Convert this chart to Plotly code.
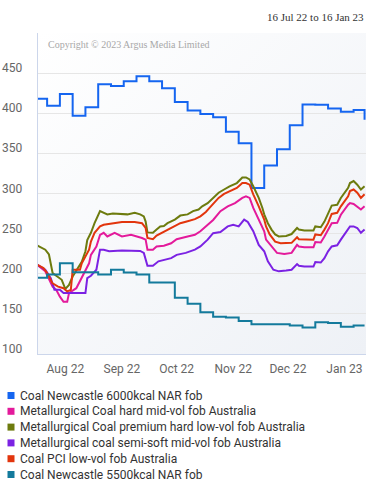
import base64
import plotly.graph_objects as go

# ---------------- data ----------------
series_names = [
    "Coal Newcastle 6000kcal NAR fob",
    "Metallurgical Coal hard mid-vol fob Australia",
    "Metallurgical Coal premium hard low-vol fob Australia",
    "Metallurgical coal semi-soft mid-vol fob Australia",
    "Coal PCI low-vol fob Australia",
    "Coal Newcastle 5500kcal NAR fob",
]
series_colors = ["#1565F0", "#E31A9B", "#6D7B0E", "#7B22E3", "#E2350D", "#137A9C"]

# weekly assessments (Fridays)
weekly_dates = ["2022-07-16", "2022-07-22", "2022-07-29", "2022-08-05", "2022-08-12", "2022-08-19",
                "2022-08-26", "2022-09-02", "2022-09-09", "2022-09-16", "2022-09-23", "2022-09-30",
                "2022-10-07", "2022-10-14", "2022-10-21", "2022-10-28", "2022-11-04", "2022-11-11",
                "2022-11-18", "2022-11-25", "2022-12-02", "2022-12-09", "2022-12-16", "2022-12-23",
                "2022-12-30", "2023-01-06", "2023-01-12"]
nc6000_vals = [418, 409.5, 424, 397, 407.5, 436, 434, 440, 446, 440, 431, 414,
               403.5, 399, 395, 377, 362.5, 307, 335, 355, 385, 411, 410.5, 406,
               402, 404, 392]
nc5500_vals = [195, 199, 213, 202, 202, 199, 205, 201.5, 199, 189, 189, 170,
               162.5, 152, 146.5, 145.5, 141, 137, 137, 137, 135.5, 133, 139.5, 138.5,
               134, 135.5, 135.5]

hard_dates = ["2022-07-16", "2022-07-21", "2022-07-25", "2022-07-27", "2022-07-29", "2022-07-31",
              "2022-08-02", "2022-08-03", "2022-08-07", "2022-08-10", "2022-08-12", "2022-08-14",
              "2022-08-15", "2022-08-18", "2022-08-20", "2022-08-22", "2022-08-24", "2022-08-28",
              "2022-09-01", "2022-09-06", "2022-09-12", "2022-09-14", "2022-09-15", "2022-09-18",
              "2022-09-20", "2022-09-24", "2022-09-28", "2022-10-01", "2022-10-07", "2022-10-11",
              "2022-10-14", "2022-10-18", "2022-10-21", "2022-10-25", "2022-10-29", "2022-11-02",
              "2022-11-06", "2022-11-08", "2022-11-10", "2022-11-12", "2022-11-15", "2022-11-18",
              "2022-11-19", "2022-11-22", "2022-11-25", "2022-11-29", "2022-12-03", "2022-12-06",
              "2022-12-07", "2022-12-10", "2022-12-15", "2022-12-16", "2022-12-19", "2022-12-21",
              "2022-12-23", "2022-12-25", "2022-12-28", "2022-12-30", "2023-01-03", "2023-01-04",
              "2023-01-06", "2023-01-08", "2023-01-10", "2023-01-12"]
hard_vals = [212, 203, 184, 180, 171.5, 165,
             165, 176, 182, 194.5, 203, 213,
             223.5, 234, 248.5, 251, 246.5, 251,
             246.5, 248.5, 244.5, 242.5, 230, 230,
             234, 235, 238, 243, 246.5, 248.5,
             253, 261, 267, 278, 284, 288,
             294.5, 296.5, 294.5, 282, 267.5, 253,
             242.5, 234, 226, 224.5, 226, 236,
             234, 233, 233, 239.5, 239, 246.5,
             255, 263, 263.5, 273.5, 286, 288,
             287, 284, 280, 284]

premium_dates = ["2022-07-16", "2022-07-21", "2022-07-23", "2022-07-25", "2022-07-27", "2022-07-30",
                 "2022-08-01", "2022-08-03", "2022-08-05", "2022-08-08", "2022-08-10", "2022-08-12",
                 "2022-08-13", "2022-08-15", "2022-08-17", "2022-08-20", "2022-08-22", "2022-08-24",
                 "2022-08-27", "2022-09-04", "2022-09-08", "2022-09-11", "2022-09-13", "2022-09-14",
                 "2022-09-15", "2022-09-18", "2022-09-20", "2022-09-22", "2022-09-24", "2022-09-26",
                 "2022-09-30", "2022-10-03", "2022-10-07", "2022-10-10", "2022-10-13", "2022-10-15",
                 "2022-10-18", "2022-10-21", "2022-10-24", "2022-10-27", "2022-10-30", "2022-11-03",
                 "2022-11-06", "2022-11-08", "2022-11-10", "2022-11-12", "2022-11-15", "2022-11-17",
                 "2022-11-18", "2022-11-20", "2022-11-22", "2022-11-24", "2022-11-26", "2022-11-30",
                 "2022-12-03", "2022-12-06", "2022-12-07", "2022-12-10", "2022-12-15", "2022-12-16",
                 "2022-12-19", "2022-12-21", "2022-12-23", "2022-12-25", "2022-12-28", "2022-12-30",
                 "2023-01-03", "2023-01-04", "2023-01-06", "2023-01-08", "2023-01-10", "2023-01-12"]
premium_vals = [236, 230, 224, 201, 197.5, 192.5,
                181, 186, 196.5, 207, 215, 228,
                242, 251, 263, 278, 276, 274,
                275, 274, 276, 274, 271.5, 265,
                251.5, 251, 255, 259, 259.5, 263,
                267.5, 272.5, 274, 278, 280, 284,
                288, 295, 301, 305, 309, 313,
                320, 320, 317.5, 309, 294.5, 282,
                274, 263, 255, 249, 246.5, 247,
                249.5, 257, 255, 254, 254, 259,
                258, 265, 274, 285, 286, 294.5,
                307, 313, 315.5, 311, 305, 309]

semisoft_dates = ["2022-07-16", "2022-07-21", "2022-07-24", "2022-07-26", "2022-07-29", "2022-07-31",
                  "2022-08-12", "2022-08-13", "2022-08-15", "2022-08-18", "2022-08-20", "2022-08-22",
                  "2022-08-25", "2022-09-01", "2022-09-11", "2022-09-13", "2022-09-15", "2022-09-18",
                  "2022-09-21", "2022-09-24", "2022-09-28", "2022-10-01", "2022-10-06", "2022-10-11",
                  "2022-10-14", "2022-10-18", "2022-10-21", "2022-10-25", "2022-10-29", "2022-11-01",
                  "2022-11-04", "2022-11-07", "2022-11-09", "2022-11-12", "2022-11-15", "2022-11-18",
                  "2022-11-20", "2022-11-23", "2022-11-26", "2022-11-30", "2022-12-03", "2022-12-06",
                  "2022-12-07", "2022-12-10", "2022-12-15", "2022-12-16", "2022-12-19", "2022-12-21",
                  "2022-12-23", "2022-12-25", "2022-12-28", "2022-12-30", "2023-01-03", "2023-01-04",
                  "2023-01-06", "2023-01-08", "2023-01-10", "2023-01-12"]
semisoft_vals = [212, 205, 194.5, 180, 180, 176,
                 176, 194.5, 197.5, 205, 230, 230,
                 228, 229, 228.5, 226, 210, 210,
                 215.5, 217.5, 219.5, 223.5, 226, 230,
                 234, 242.5, 250.5, 252, 259, 261,
                 259, 267.5, 264.5, 253, 236, 228,
                 215.5, 205, 203, 204, 205, 212,
                 210, 209, 209, 214.5, 214, 219.5,
                 228, 234, 235.5, 242.5, 255, 259,
                 259, 257, 251, 255]

pci_dates = ["2022-07-16", "2022-07-20", "2022-07-22", "2022-07-25", "2022-07-28", "2022-07-31",
             "2022-08-02", "2022-08-04", "2022-08-05", "2022-08-09", "2022-08-10", "2022-08-12",
             "2022-08-14", "2022-08-15", "2022-08-17", "2022-08-20", "2022-08-22", "2022-09-01",
             "2022-09-08", "2022-09-12", "2022-09-14", "2022-09-15", "2022-09-18", "2022-09-20",
             "2022-09-23", "2022-09-26", "2022-09-30", "2022-10-03", "2022-10-07", "2022-10-11",
             "2022-10-14", "2022-10-17", "2022-10-19", "2022-10-22", "2022-10-24", "2022-10-27",
             "2022-11-03", "2022-11-06", "2022-11-08", "2022-11-10", "2022-11-12", "2022-11-15",
             "2022-11-18", "2022-11-19", "2022-11-21", "2022-11-24", "2022-11-27", "2022-12-03",
             "2022-12-06", "2022-12-07", "2022-12-10", "2022-12-15", "2022-12-16", "2022-12-19",
             "2022-12-21", "2022-12-23", "2022-12-25", "2022-12-28", "2022-12-30", "2023-01-03",
             "2023-01-04", "2023-01-06", "2023-01-08", "2023-01-10", "2023-01-12"]
pci_vals = [212, 207, 201, 188, 184, 182,
            178, 180, 205, 205, 213, 221.5,
            230, 240, 251, 259, 261, 264.5,
            264.5, 263, 257, 244.5, 243, 247.5,
            251, 255, 259, 263, 265.5, 268,
            271.5, 277, 282, 289, 294.5, 299.5,
            307, 313, 313, 311, 299, 284,
            267.5, 259, 249, 240, 238, 238.5,
            245.5, 243, 242.5, 242.5, 249, 248,
            255, 263, 274.5, 276, 284, 296.5,
            303, 305, 301, 294.5, 299]

y_tick_vals = [100, 150, 200, 250, 300, 350, 400, 450, 500]
y_tick_text = ["100", "150", "200", "250", "300", "350", "400", "450", ""]
y_range = [100, 500]
x_range = ["2022-07-17", "2023-01-12 19:00"]
title_text = "16 Jul 22 to 16 Jan 23"
copyright_text = "Copyright © 2023 Argus Media Limited"

# ---------------- layout geometry (pixels) ----------------
W, H = 375, 500
L, R, T, B = 38, 366, 33, 354
FONT = "Roboto, 'Open Sans', sans-serif"


def px_x(px):
    return (px - L) / (R - L)


def px_y(py):
    return (B - py) / (B - T)


fig = go.Figure()

traces = [
    (weekly_dates, nc6000_vals, "hv"),
    (hard_dates, hard_vals, "linear"),
    (premium_dates, premium_vals, "linear"),
    (semisoft_dates, semisoft_vals, "linear"),
    (pci_dates, pci_vals, "linear"),
    (weekly_dates, nc5500_vals, "hv"),
]
for (xs, ys, shape), name, col in zip(traces, series_names, series_colors):
    fig.add_trace(go.Scatter(x=xs, y=ys, mode="lines", name=name,
                             line=dict(color=col, width=2, shape=shape),
                             showlegend=False, cliponaxis=True))

# gradient plot background
svg = ('<svg xmlns="http://www.w3.org/2000/svg" width="100" height="100" preserveAspectRatio="none">'
       '<defs><linearGradient id="g" x1="0" y1="0" x2="1" y2="1">'
       '<stop offset="0" stop-color="#ffffff"/><stop offset="1" stop-color="#eef1f6"/>'
       '</linearGradient></defs><rect width="100" height="100" fill="url(#g)"/></svg>')
svg_uri = "data:image/svg+xml;base64," + base64.b64encode(svg.encode()).decode()

shapes = []
annotations = []

# y tick labels: sit just above their gridlines, right-aligned left of the plot
for v, t in zip(y_tick_vals, y_tick_text):
    if t:
        annotations.append(dict(text=t, xref="paper", yref="y", x=0, y=v,
                                xanchor="right", yanchor="middle", xshift=-14, yshift=5,
                                showarrow=False,
                                font=dict(family=FONT, size=12, color="#666666")))

# legend built from names / colors
leg_y0, leg_dy = 395.5, 15.8
for i, (name, col) in enumerate(zip(series_names, series_colors)):
    cy = leg_y0 + i * leg_dy
    shapes.append(dict(type="rect", xref="paper", yref="paper",
                       x0=px_x(7.5), x1=px_x(14.5), y0=px_y(cy - 3.5), y1=px_y(cy + 3.5),
                       fillcolor=col, line=dict(width=0)))
    annotations.append(dict(text=name, xref="paper", yref="paper",
                            x=px_x(18), y=px_y(cy), xanchor="left", yanchor="middle",
                            showarrow=False, font=dict(family=FONT, size=12, color="#333333")))

annotations.append(dict(text=title_text, xref="paper", yref="paper", x=px_x(366), y=px_y(17),
                        xanchor="right", yanchor="middle", showarrow=False,
                        font=dict(family="'Liberation Serif', serif", size=11, color="#333333")))
annotations.append(dict(text=copyright_text, xref="paper", yref="paper", x=px_x(46), y=px_y(44),
                        xanchor="left", yanchor="middle", showarrow=False,
                        font=dict(family="'Liberation Serif', serif", size=10, color="#a8a8a8")))

fig.update_layout(
    width=W, height=H,
    margin=dict(l=L, r=W - R, t=T, b=H - B, pad=0),
    paper_bgcolor="#ffffff",
    plot_bgcolor="rgba(0,0,0,0)",
    showlegend=False,
    font=dict(family=FONT, size=12, color="#666666"),
    images=[dict(source=svg_uri, xref="paper", yref="paper", x=0, y=1, sizex=1, sizey=1,
                 sizing="stretch", layer="below", xanchor="left", yanchor="top")],
    shapes=shapes,
    annotations=annotations,
    xaxis=dict(type="date", range=x_range, tick0="2022-08-01", dtick="M1", tickformat="%b %y",
               showgrid=False, showline=True, linecolor="#ccd6eb", linewidth=1,
               ticks="", ticklabelstandoff=4, zeroline=False,
               tickfont=dict(family=FONT, size=12, color="#666666"), fixedrange=True),
    yaxis=dict(range=y_range, tickvals=y_tick_vals, showticklabels=False,
               showgrid=True, gridcolor="#e6e6e6", gridwidth=1,
               showline=True, linecolor="#ccd6eb", linewidth=1, zeroline=False,
               ticks="", fixedrange=True),
)

fig.write_html("out.html", config={"displayModeBar": False},
               post_script="document.body.style.margin='0';document.body.style.padding='0';")
